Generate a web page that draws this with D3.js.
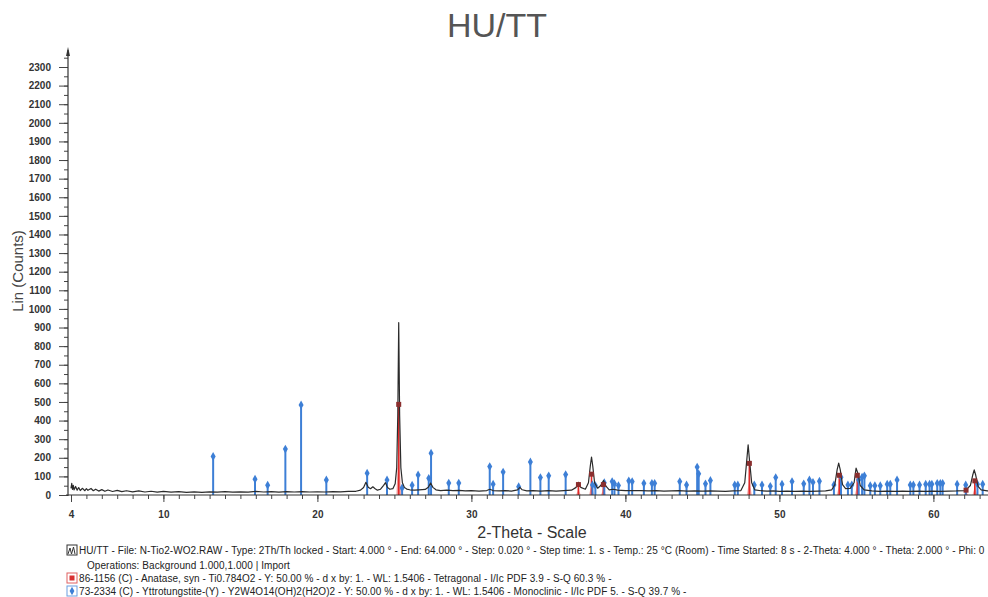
<!DOCTYPE html>
<html>
<head>
<meta charset="utf-8">
<script src="https://cdn.jsdelivr.net/npm/d3@7/dist/d3.min.js"></script>
<style>
  html, body { margin: 0; padding: 0; background: #fff; }
  svg { display: block; font-family: "Liberation Sans", Arial, sans-serif; }
</style>
</head>
<body>
<svg id="chart" width="988" height="597"></svg>
<script>
// Measured scan HU/TT: 2-theta (deg) vs intensity (counts)
const scanTheta = [4.0,4.05,4.1,4.15,4.2,4.3,4.4,4.5,4.6,4.75,4.9,5.0,5.1,5.3,5.45,5.6,5.8,6.0,6.2,6.4,6.7,7.0,7.3,7.6,8.0,8.4,8.8,9.2,9.6,10,10.5,11,11.5,12,12.5,13,13.5,14,14.5,15,15.5,16,16.5,17,17.5,18,18.5,19,19.5,20,20.5,21,21.5,22,22.5,22.8,23.0,23.15,23.3,23.45,23.6,23.75,23.9,24.1,24.3,24.42,24.55,24.7,24.9,25.05,25.15,25.22,25.28,25.34,25.42,25.52,25.65,25.8,26.0,26.3,26.6,27.0,27.2,27.35,27.5,27.7,28.0,28.4,28.8,29.2,29.6,30,30.5,31,31.2,31.4,31.8,32.2,32.6,33,33.15,33.3,33.6,34,34.5,35,35.5,36,36.5,36.8,36.95,37.1,37.4,37.6,37.72,37.8,37.88,38.0,38.2,38.4,38.58,38.75,38.95,39.2,39.5,40,40.5,41,41.5,42,42.5,43,43.5,44,44.5,45,45.5,46,46.5,47,47.5,47.75,47.88,47.97,48.06,48.2,48.4,48.8,49.2,49.6,50,50.5,51,51.5,52,52.5,53,53.4,53.6,53.75,53.85,53.95,54.1,54.3,54.6,54.85,54.98,55.1,55.25,55.5,56,56.5,57,57.5,58,58.5,59,59.5,60,60.5,61,61.5,62,62.2,62.4,62.55,62.65,62.75,62.9,63.1,63.5,64];
const scanCounts = [36,62,30,52,28,46,26,40,24,36,23,34,25,35,23,31,21,29,20,27,19,25,18,23,17,22,16,20,15,19,15,18,14,17,14,17,15,18,15,17,15,19,16,18,15,18,16,18,16,17,16,18,17,19,20,26,40,68,42,34,44,34,26,31,52,66,41,31,34,60,146,430,926,430,146,66,41,32,28,26,28,30,42,64,41,28,24,26,23,25,22,24,21,24,31,24,22,24,21,28,41,28,22,24,21,23,21,24,26,41,68,41,31,66,156,204,156,66,36,51,78,46,28,31,26,24,23,24,22,23,21,22,23,21,22,21,22,21,20,22,24,66,186,270,186,66,28,23,21,22,20,21,20,21,20,21,22,28,56,136,171,136,56,34,36,66,144,116,51,28,22,20,21,20,21,20,21,20,21,20,21,22,24,34,51,106,135,106,46,28,22,21];

// Reference pattern 86-1156 Anatase (red sticks)
const anataseTheta = [25.28,36.95,37.80,38.57,48.05,53.89,55.06,62.12,62.69];
const anataseCounts = [487,56,112,56,170,106,106,26,76];

// Reference pattern 73-2334 Yttrotungstite-(Y) (blue sticks)
const yttroTheta = [13.23,15.95,16.77,17.92,18.94,20.58,23.23,24.52,25.5,26.15,26.54,27.23,27.38,28.53,29.18,31.19,31.41,32.06,33.07,33.83,34.48,35.02,36.12,37.86,38.05,38.63,39.14,39.29,39.55,40.22,40.44,41.2,41.72,41.9,43.53,43.97,44.66,44.76,45.2,45.52,47.1,47.3,48.37,48.87,49.41,49.76,50.17,50.82,51.58,51.95,52.18,52.6,53.54,54.0,54.45,54.7,55.15,55.37,55.52,55.9,56.2,56.55,57.0,57.2,57.64,58.5,58.7,59.1,59.5,59.75,59.9,60.25,60.45,60.6,61.54,62.1,62.86,63.2];
const yttroCounts = [207,85,53,247,484,81,117,81,38,53,108,90,225,64,64,153,58,123,45,178,94,103,110,54,51,66,72,61,51,76,72,63,63,63,72,54,150,114,60,78,54,54,54,54,47,94,58,72,60,81,68,74,54,96,54,54,81,96,103,50,50,50,58,58,81,54,54,54,58,58,58,63,63,63,58,54,58,58];

// Axis ticks
const xTickLabels = [4,10,20,30,40,50,60];
const yTickLabels = d3.range(0, 2301, 100);

// Legend texts
const legendLines = [
  "HU/TT - File: N-Tio2-WO2.RAW - Type: 2Th/Th locked - Start: 4.000 \u00b0 - End: 64.000 \u00b0 - Step: 0.020 \u00b0 - Step time: 1. s - Temp.: 25 \u00b0C (Room) - Time Started: 8 s - 2-Theta: 4.000 \u00b0 - Theta: 2.000 \u00b0 - Phi: 0",
  "Operations: Background 1.000,1.000 | Import",
  "86-1156 (C) - Anatase, syn - Ti0.784O2 - Y: 50.00 % - d x by: 1. - WL: 1.5406 - Tetragonal - I/Ic PDF 3.9 - S-Q 60.3 % -",
  "73-2334 (C) - Yttrotungstite-(Y) - Y2W4O14(OH)2(H2O)2 - Y: 50.00 % - d x by: 1. - WL: 1.5406 - Monoclinic - I/Ic PDF 5. - S-Q 39.7 % -"
];

const svg = d3.select("#chart");
const W = 988;

const x = d3.scaleLinear().domain([4, 64]).range([71, 995]);
const y = d3.scaleLinear().domain([0, 2300]).range([495, 67]);

const plot = svg.append("g");
plot.append("clipPath").attr("id", "clip")
  .append("rect").attr("x", 68).attr("y", 40).attr("width", W - 68).attr("height", 456);

// Title
svg.append("text")
  .attr("x", 497).attr("y", 37)
  .attr("text-anchor", "middle")
  .attr("font-size", 34).attr("fill", "#555")
  .text("HU/TT");

// Y axis: minor ticks every 50, labelled ticks every 100
const yMinor = svg.append("g").attr("transform", "translate(68,0)")
  .call(d3.axisLeft(y).tickValues(d3.range(0, 2351, 50)).tickSize(4).tickFormat(""));
yMinor.select(".domain").remove();
yMinor.selectAll("line").attr("stroke", "#444");

const yAxis = svg.append("g").attr("transform", "translate(68,0)")
  .call(d3.axisLeft(y).tickValues(yTickLabels).tickSize(9).tickPadding(8).tickFormat(d3.format("d")));
yAxis.select(".domain").remove();
yAxis.selectAll("line").attr("stroke", "#444");
yAxis.selectAll("text").attr("font-size", 10).attr("fill", "#333")
  .attr("font-family", "Liberation Sans, Arial, sans-serif").attr("font-weight", "bold");

// Y axis line with arrow tip
svg.append("line").attr("x1", 68).attr("x2", 68).attr("y1", 496).attr("y2", 50)
  .attr("stroke", "#333").attr("stroke-width", 1.2);
svg.append("path").attr("d", "M66,56 L68,47 L70,56 Z").attr("fill", "#333");

// X axis: minor ticks every degree, labelled ticks
const xMinor = svg.append("g").attr("transform", "translate(0,495)")
  .call(d3.axisBottom(x).tickValues(d3.range(4, 65, 1)).tickSize(4).tickFormat(""));
xMinor.select(".domain").remove();
xMinor.selectAll("line").attr("stroke", "#444");

const xAxis = svg.append("g").attr("transform", "translate(0,495)")
  .call(d3.axisBottom(x).tickValues(xTickLabels).tickSize(7).tickPadding(9).tickFormat(d3.format("d")));
xAxis.select(".domain").remove();
xAxis.selectAll("line").attr("stroke", "#444");
xAxis.selectAll("text").attr("font-size", 10).attr("fill", "#333")
  .attr("font-family", "Liberation Sans, Arial, sans-serif").attr("font-weight", "bold");

svg.append("line").attr("x1", 66).attr("x2", W).attr("y1", 495).attr("y2", 495)
  .attr("stroke", "#333").attr("stroke-width", 1.2);

// Axis titles
svg.append("text")
  .attr("transform", "translate(23,271) rotate(-90)")
  .attr("text-anchor", "middle").attr("font-size", 15).attr("fill", "#444")
  .text("Lin (Counts)");
svg.append("text")
  .attr("x", 532).attr("y", 538)
  .attr("text-anchor", "middle").attr("font-size", 16).attr("fill", "#333")
  .text("2-Theta - Scale");

const g = plot.append("g").attr("clip-path", "url(#clip)");

// Anatase reference: pink peak fill + red stick + square marker
const anatase = anataseTheta.map((t, i) => ({ t, v: anataseCounts[i] }));
const fillArea = d3.area().x(d => x(d[0])).y0(y(0)).y1(d => y(d[1]));
anatase.forEach(d => {
  const shape = [[d.t - 0.15, 0], [d.t - 0.06, d.v * 0.35], [d.t - 0.025, d.v * 0.8], [d.t, d.v],
                 [d.t + 0.025, d.v * 0.8], [d.t + 0.06, d.v * 0.35], [d.t + 0.15, 0]];
  g.append("path").datum(shape).attr("d", fillArea)
    .attr("fill", "#ec8f8f").attr("opacity", 0.85);
});
g.selectAll(".redstick").data(anatase).join("line")
  .attr("class", "redstick")
  .attr("x1", d => x(d.t)).attr("x2", d => x(d.t))
  .attr("y1", y(0)).attr("y2", d => y(d.v))
  .attr("stroke", "#e02828").attr("stroke-width", 1.6);

// Yttrotungstite reference: blue sticks with diamond markers
const yttro = yttroTheta.map((t, i) => ({ t, v: yttroCounts[i] }));
g.selectAll(".bluestick").data(yttro).join("line")
  .attr("class", "bluestick")
  .attr("x1", d => x(d.t)).attr("x2", d => x(d.t))
  .attr("y1", y(0)).attr("y2", d => y(d.v))
  .attr("stroke", "#3d7fd6").attr("stroke-width", 2);
g.selectAll(".bluemark").data(yttro).join("path")
  .attr("class", "bluemark")
  .attr("transform", d => `translate(${x(d.t)},${y(d.v)})`)
  .attr("d", d3.symbol(d3.symbolDiamond, 22))
  .attr("fill", "#3d7fd6");

// Measured scan
const scan = scanTheta.map((t, i) => [t, scanCounts[i]]);
g.append("path").datum(scan)
  .attr("d", d3.line().x(d => x(d[0])).y(d => y(d[1])))
  .attr("fill", "none").attr("stroke", "#2b2b2b").attr("stroke-width", 1.2)
  .attr("stroke-linejoin", "round");

// Anatase square markers on top
g.selectAll(".redmark").data(anatase).join("rect")
  .attr("class", "redmark")
  .attr("x", d => x(d.t) - 2.5).attr("y", d => y(d.v) - 2.5)
  .attr("width", 5).attr("height", 5)
  .attr("fill", "#8a2e2e");

// Legend
const legend = svg.append("g").attr("font-size", 10).attr("fill", "#222")
  .attr("letter-spacing", 0.07);
const rows = [550, 565, 578, 591];
legend.selectAll("text").data(legendLines).join("text")
  .attr("x", (d, i) => i === 1 ? 87 : 79)
  .attr("y", (d, i) => rows[i] + 3.5)
  .text(d => d);

// Legend icons
const ic1 = legend.append("g").attr("transform", `translate(67,${rows[0] - 5})`);
ic1.append("rect").attr("width", 10).attr("height", 10).attr("fill", "none").attr("stroke", "#333");
ic1.append("path").attr("d", "M1,9 L3,3 L4.5,9 L6.5,2 L8,9").attr("fill", "none").attr("stroke", "#333");

const ic2 = legend.append("g").attr("transform", `translate(67,${rows[2] - 5})`);
ic2.append("rect").attr("width", 10).attr("height", 10).attr("fill", "none").attr("stroke", "#e06060");
ic2.append("rect").attr("x", 2.5).attr("y", 2.5).attr("width", 5).attr("height", 5).attr("fill", "#d83030");

const ic3 = legend.append("g").attr("transform", `translate(67,${rows[3] - 5})`);
ic3.append("rect").attr("width", 10).attr("height", 10).attr("fill", "none").attr("stroke", "#6a9ee0");
ic3.append("path").attr("transform", "translate(5,5)").attr("d", d3.symbol(d3.symbolDiamond, 20)).attr("fill", "#3d7fd6");
</script>
</body>
</html>
